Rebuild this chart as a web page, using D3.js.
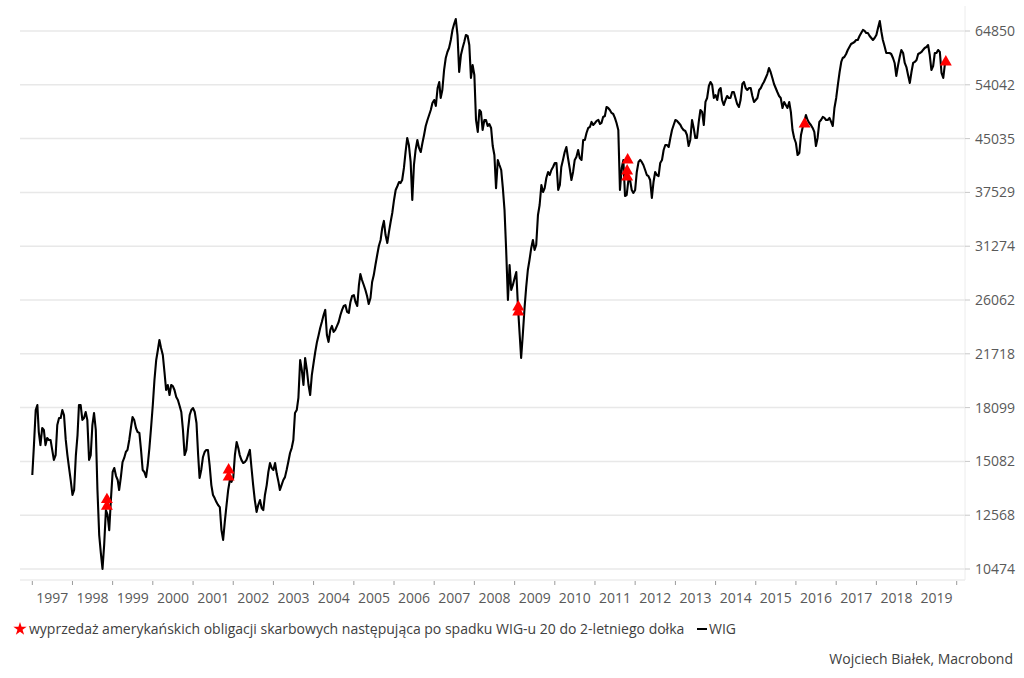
<!DOCTYPE html>
<html>
<head>
<meta charset="utf-8">
<script src="https://cdn.jsdelivr.net/npm/d3@7"></script>
<style>
  body { margin: 0; background: #fff; }
  svg { display: block; font-family: 'Open Sans', 'Noto Sans', sans-serif; }
</style>
</head>
<body>
<div id="chart"></div>
<script>
// WIG, twice a month (1st and 16th)
var wigStart = 1997;
var wigSemiMonthly = [
    14400, 15940, 17950, 18260, 16660, 15940, 16890, 16780, 15940, 16330, 16220, 16220,
    15680, 15160, 15410, 17060, 17470, 17470, 17950, 17650, 16220, 15410, 14750, 14160, // 1997
    13460, 13690, 15410, 16490, 18260, 18260, 17360, 17470, 17830, 17360, 15160, 15410,
    17060, 17770, 16780, 13690, 11750, 11050, 10480, 11360, 12790, 12580, 11950, 13230, // 1998
    14550, 14750, 14350, 14160, 13690, 14260, 15050, 15260, 15570, 15680, 16220, 16890,
    17530, 17360, 16890, 16660, 16610, 15680, 14650, 14550, 14300, 14900, 15780, 16890, // 1999
    18260, 19870, 21270, 22000, 22760, 22150, 21630, 20420, 19210, 19540, 18890, 19540,
    19470, 19210, 18760, 18570, 18200, 17830, 16780, 15410, 15680, 16780, 17650, 17950, // 2000
    18070, 17830, 17180, 15410, 14260, 14650, 15310, 15570, 15680, 15680, 14850, 13920,
    13460, 13320, 13140, 13010, 12920, 11950, 11560, 12280, 13010, 13690, 14160, 14070, // 2001
    14260, 15410, 16110, 15780, 15410, 15160, 15000, 15050, 15160, 15410, 15680, 14750,
    13920, 13230, 12710, 13010, 13230, 12880, 12790, 13460, 13920, 14550, 15000, 14750, // 2002
    14650, 15000, 14450, 14070, 13690, 13920, 14160, 14300, 14650, 15050, 15520, 15780,
    16220, 17770, 17950, 18700, 21270, 20560, 19540, 21410, 20560, 19540, 18890, 20210, // 2003
    21050, 21850, 22610, 23150, 23710, 24190, 24770, 25200, 23150, 22610, 23550, 23870,
    23390, 23550, 23870, 24190, 24770, 25200, 25540, 25620, 25030, 24940, 25890, 26420, // 2004
    26500, 25890, 25540, 27420, 28460, 27890, 27420, 26960, 26420, 25710, 26240, 27700,
    28360, 29340, 30350, 31300, 31940, 33270, 34070, 32480, 31620, 32820, 33950, 35000, // 2005
    36580, 37840, 38350, 38880, 38740, 39140, 40770, 43040, 45130, 44070, 41610, 36580,
    41180, 43330, 44830, 43630, 43040, 44370, 45590, 47000, 47970, 48790, 49620, 50810, // 2006
    51330, 50300, 53460, 54560, 51680, 53100, 56830, 59180, 60400, 61220, 62910, 65080,
    66410, 67550, 63970, 56440, 59780, 61220, 62480, 63970, 63760, 61840, 55310, 57790, // 2007
    55860, 47970, 46060, 49620, 49290, 46370, 47970, 47970, 47000, 47320, 46690, 43910,
    42600, 38080, 41890, 41180, 40490, 38080, 35360, 30880, 26060, 29340, 26960, 27420, // 2008
    28080, 28660, 25370, 23150, 21410, 23150, 25370, 27230, 28850, 29850, 31090, 31940,
    30880, 31400, 34760, 35960, 38480, 37580, 38080, 39410, 40220, 39810, 40490, 40900, // 2009
    41460, 41460, 37840, 38480, 40900, 41890, 43040, 43770, 42170, 40770, 39140, 40220,
    41890, 42320, 43330, 42170, 41890, 44830, 44830, 45900, 46690, 46840, 47650, 47160, // 2010
    47480, 47810, 47970, 47320, 47480, 48460, 48620, 50130, 49960, 49620, 49120, 48950,
    48300, 47480, 46370, 37840, 40770, 41890, 37070, 37200, 39140, 39140, 37840, 37460, // 2011
    37840, 40220, 41610, 41890, 41610, 41180, 40490, 39810, 39670, 39140, 36830, 38880,
    40220, 39810, 39670, 41460, 41890, 43330, 44070, 44070, 43770, 45130, 46370, 47160, // 2012
    47970, 47810, 47480, 47160, 46690, 46370, 46210, 45590, 43910, 44830, 47970, 46690,
    45130, 45130, 47650, 49620, 49290, 47160, 50990, 51680, 53820, 54560, 54040, 51680, // 2013
    52200, 51330, 53100, 53460, 51330, 50460, 51330, 52030, 51680, 51680, 52740, 52740,
    51680, 50640, 50130, 51330, 54190, 54560, 53460, 53100, 53460, 53460, 52030, 50990, // 2014
    51330, 51680, 53100, 53460, 54040, 54560, 55310, 56050, 57210, 56440, 55310, 54190,
    53460, 52740, 52030, 51680, 49960, 50990, 50460, 49960, 50990, 49290, 46370, 45130, // 2015
    44370, 42600, 42890, 45590, 46690, 47650, 48790, 47970, 47480, 47160, 46690, 46060,
    43910, 45130, 47650, 47970, 48460, 48300, 47970, 47970, 48300, 47650, 47000, 49960, // 2016
    51680, 54040, 56440, 58390, 59180, 59380, 59990, 60810, 61430, 62060, 62270, 62480,
    62910, 62910, 63760, 64420, 65080, 64860, 64420, 64420, 63760, 63330, 62910, 63330, // 2017
    63970, 65520, 67090, 64640, 62910, 61630, 60190, 60190, 60190, 59990, 59180, 58190,
    55680, 57590, 59370, 60810, 60190, 58190, 57390, 55860, 54380, 56440, 58190, 58390, // 2018
    58790, 59990, 60190, 60400, 60810, 61220, 61430, 61840, 59780, 56830, 57590, 60190,
    60190, 60810, 60400, 56250, 55310, 57990                                            // 2019
];

// sell-off signals (red triangles)
var signalDates = ['1998-11-10', '1998-11-10', '2001-11-20', '2001-11-20', '2009-02-03', '2009-02-03',
    '2011-10-25', '2011-10-20', '2011-10-20', '2016-03-20', '2019-09-24'];
var signalValues = [13250, 12950, 14650, 14300, 25450, 25030, 41890, 40360, 39550, 47320, 58390];

var yTicks = [10474, 12568, 15082, 18099, 21718, 26062, 31274, 37529, 45035, 54042, 64850];
var years = d3.range(1997, 2020);

var legendSignal = 'wyprzedaż amerykańskich obligacji skarbowych następująca po spadku WIG-u 20 do 2-letniego dołka';
var legendWig = 'WIG';
var credit = 'Wojciech Białek, Macrobond';

var width = 1024, height = 678;
var plotLeft = 20, plotRight = 965;

var parse = d3.timeParse('%Y-%m-%d');
var wig = wigSemiMonthly.map(function (v, i) {
    return {date: new Date(wigStart, Math.floor(i / 2), i % 2 ? 16 : 1), value: v};
});
var signals = signalDates.map(function (d, i) {
    return {date: parse(d), value: signalValues[i]};
});

var x = d3.scaleTime()
    .domain([new Date(1997, 0, 1), new Date(2020, 0, 1)])
    .range([32.3, 956.7]);
var y = d3.scaleLog()
    .domain([10474, 64850])
    .range([569, 31]);

var svg = d3.select('#chart').append('svg')
    .attr('width', width).attr('height', height);

// horizontal grid
svg.append('g').selectAll('line').data(yTicks).enter().append('line')
    .attr('x1', plotLeft).attr('x2', plotRight)
    .attr('y1', function (d) { return y(d); }).attr('y2', function (d) { return y(d); })
    .style('stroke', '#e8e8e8').style('stroke-width', 1.5);

// right value axis
var yAxis = svg.append('g');
yAxis.append('line').attr('x1', plotRight).attr('x2', plotRight).attr('y1', 6).attr('y2', 580)
    .style('stroke', '#ececec').style('stroke-width', 1);
yAxis.selectAll('.ytick').data(yTicks).enter().append('line')
    .attr('x1', plotRight).attr('x2', plotRight + 5)
    .attr('y1', function (d) { return y(d); }).attr('y2', function (d) { return y(d); })
    .style('stroke', '#c8c8c8');
yAxis.selectAll('.ylabel').data(yTicks).enter().append('text')
    .attr('x', plotRight + 10).attr('y', function (d) { return y(d) + 5; })
    .style('font-size', '14px').style('fill', '#595959')
    .text(function (d) { return d; });

// time axis
var xAxis = svg.append('g');
xAxis.append('line').attr('x1', plotLeft).attr('x2', plotRight).attr('y1', 580).attr('y2', 580)
    .style('stroke', '#ececec').style('stroke-width', 1.5);
xAxis.selectAll('.xtick').data(years.concat([2020])).enter().append('line')
    .attr('x1', function (d) { return x(new Date(d, 0, 1)); })
    .attr('x2', function (d) { return x(new Date(d, 0, 1)); })
    .attr('y1', 581).attr('y2', 585)
    .style('stroke', '#9a9a9a');
xAxis.selectAll('.xlabel').data(years).enter().append('text')
    .attr('x', function (d) { return (x(new Date(d, 0, 1)) + x(new Date(d + 1, 0, 1))) / 2; })
    .attr('y', 603)
    .style('text-anchor', 'middle').style('font-size', '14px').style('fill', '#595959')
    .text(function (d) { return d; });

// WIG line
var line = d3.line()
    .x(function (d) { return x(d.date); })
    .y(function (d) { return y(d.value); });
svg.append('path').datum(wig)
    .attr('d', line)
    .style('fill', 'none').style('stroke', '#000').style('stroke-width', 2.1)
    .style('stroke-linejoin', 'round');

// signal markers
svg.append('g').selectAll('path').data(signals).enter().append('path')
    .attr('transform', function (d) { return 'translate(' + x(d.date) + ',' + y(d.value) + ')'; })
    .attr('d', d3.symbol().type(d3.symbolTriangle).size(62))
    .style('fill', '#ff0000');

// legend
var legend = svg.append('g');
legend.append('path')
    .attr('transform', 'translate(20,629)')
    .attr('d', d3.symbol().type(d3.symbolStar).size(55))
    .style('fill', '#ff0000');
legend.append('text').attr('x', 29).attr('y', 634)
    .style('font-size', '14px').style('fill', '#404040')
    .text(legendSignal);
legend.append('line').attr('x1', 697).attr('x2', 707).attr('y1', 629).attr('y2', 629)
    .style('stroke', '#000').style('stroke-width', 2);
legend.append('text').attr('x', 709).attr('y', 634)
    .style('font-size', '14px').style('fill', '#404040')
    .text(legendWig);

svg.append('text').attr('x', 1013).attr('y', 664)
    .style('text-anchor', 'end').style('font-size', '14px').style('fill', '#404040')
    .text(credit);
</script>
</body>
</html>
